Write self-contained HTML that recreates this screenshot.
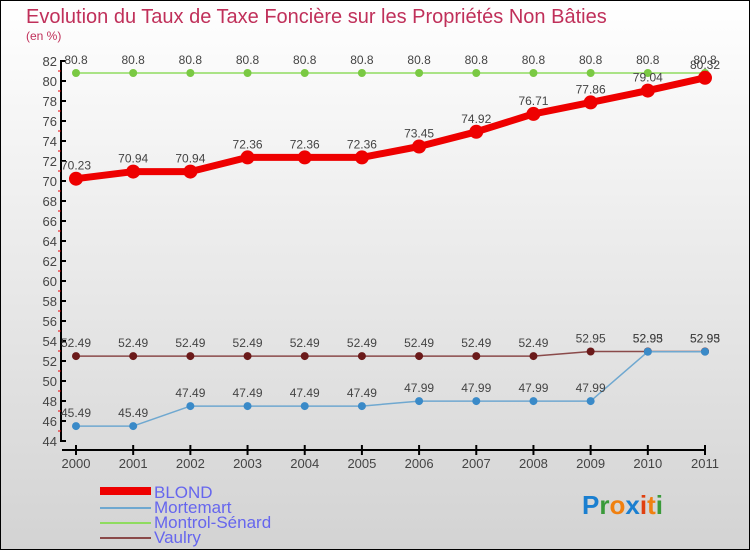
<!DOCTYPE html>
<html><head><meta charset="utf-8"><style>
body{margin:0;}
#c{width:750px;height:550px;position:relative;overflow:hidden;font-family:"Liberation Sans","DejaVu Sans",sans-serif;}
text{font-family:"Liberation Sans","DejaVu Sans",sans-serif;}
</style></head><body>
<div id="c">
<svg id="svg" width="750" height="550" xmlns="http://www.w3.org/2000/svg">
<defs><linearGradient id="bg" x1="0" y1="0" x2="0" y2="1"><stop offset="0" stop-color="#ffffff"/><stop offset="1" stop-color="#d3d3d3"/></linearGradient></defs>
<rect x="0.5" y="0.5" width="749" height="549" fill="url(#bg)" stroke="#000"/>
<text x="26" y="23" font-size="20" fill="#c0305a">Evolution du Taux de Taxe Foncière sur les Propriétés Non Bâties</text>
<text x="26" y="40" font-size="12" fill="#c0305a">(en %)</text>
<g id="axes"></g><g id="series"></g>
<g>
<rect x="100" y="487" width="51" height="8" fill="#e00"/>
<text x="154" y="498" font-size="17" fill="#6666ee">BLOND</text>
<rect x="100" y="507" width="51" height="2" fill="#6fa8d0"/>
<text x="154" y="513" font-size="17" fill="#6666ee">Mortemart</text>
<rect x="100" y="522" width="51" height="2" fill="#8fdc60"/>
<text x="154" y="528" font-size="17" fill="#6666ee">Montrol-Sénard</text>
<rect x="100" y="537" width="51" height="2" fill="#8a4a4a"/>
<text x="154" y="543" font-size="17" fill="#6666ee">Vaulry</text>
</g>
<text x="582" y="514" font-size="26" font-weight="bold"><tspan fill="#1a7fd0">P</tspan><tspan fill="#3a9a3a">r</tspan><tspan fill="#f08010">o</tspan><tspan fill="#1a7fd0">x</tspan><tspan fill="#e04010">i</tspan><tspan fill="#f08010">t</tspan><tspan fill="#3a9a3a">i</tspan></text>
</svg></div>
<script>
const years=["2000","2001","2002","2003","2004","2005","2006","2007","2008","2009","2010","2011"];
const blond=[70.23,70.94,70.94,72.36,72.36,72.36,73.45,74.92,76.71,77.86,79.04,80.32];
const mortemart=[45.49,45.49,47.49,47.49,47.49,47.49,47.99,47.99,47.99,47.99,52.93,52.93];
const montrol=[80.8,80.8,80.8,80.8,80.8,80.8,80.8,80.8,80.8,80.8,80.8,80.8];
const vaulry=[52.49,52.49,52.49,52.49,52.49,52.49,52.49,52.49,52.49,52.95,52.95,52.95];
const yTicks=[44,46,48,50,52,54,56,58,60,62,64,66,68,70,72,74,76,78,80,82];
const NS="http://www.w3.org/2000/svg";
const X=i=>76+i*(705-76)/(years.length-1);
const Y=v=>441-(v-44)*(441-61)/(82-44);
function mk(t,a,p){const e=document.createElementNS(NS,t);for(const k in a)e.setAttribute(k,a[k]);p.appendChild(e);return e;}
const ax=document.getElementById('axes');
let yl=mk('line',{x1:61,y1:60,x2:61,y2:442,stroke:'#000','stroke-width':2},ax);


yTicks.forEach(v=>{
 const t=mk('line',{x1:61,x2:66,y1:Y(v),y2:Y(v),stroke:'#000','stroke-width':2},ax);
 
 
 if(v<82){
 const m=mk('line',{x1:58,x2:61,y1:Y(v+1),y2:Y(v+1),stroke:'#e00','stroke-width':1},ax);
 
 
 }
 const l=mk('text',{x:57,y:Y(v)+5,'text-anchor':'end','font-size':13,fill:'#444'},ax);
 l.textContent=v;
 
 
});
let xl=mk('line',{x1:62,y1:450,x2:706,y2:450,stroke:'#000','stroke-width':2},ax);


years.forEach((yr,i)=>{
 const t=mk('line',{x1:X(i),x2:X(i),y1:445,y2:455,stroke:'#000','stroke-width':2},ax);
 
 
 const l=mk('text',{x:X(i),y:468,'text-anchor':'middle','font-size':13,fill:'#444'},ax);
 l.textContent=yr;
 
 
});
const sg=document.getElementById('series');
function draw(name,vals,color,w,r,dot){
 const g=mk('g',{},sg);
 
 
 const p=mk('polyline',{points:vals.map((v,i)=>X(i)+','+Y(v)).join(' '),fill:'none',stroke:color,'stroke-width':w,'stroke-linejoin':'round'},g);
 
 
 vals.forEach((v,i)=>{
  const c=mk('circle',{cx:X(i),cy:Y(v),r:r,fill:dot},g);
  
  
  const t=mk('text',{x:X(i),y:Y(v)-9,'text-anchor':'middle','font-size':12,fill:'#444'},g);
  t.textContent=String(v);
  
  
 });
}
draw('montrol',montrol,'#8fdc60',1.5,4,'#7ac943');
draw('vaulry',vaulry,'#8a4a4a',1.5,4,'#6b1a1a');
draw('mortemart',mortemart,'#6fa8d0',1.5,4,'#3a8ac8');
draw('blond',blond,'#ee0000',7,7,'#ee0000');
</script>
</body></html>
